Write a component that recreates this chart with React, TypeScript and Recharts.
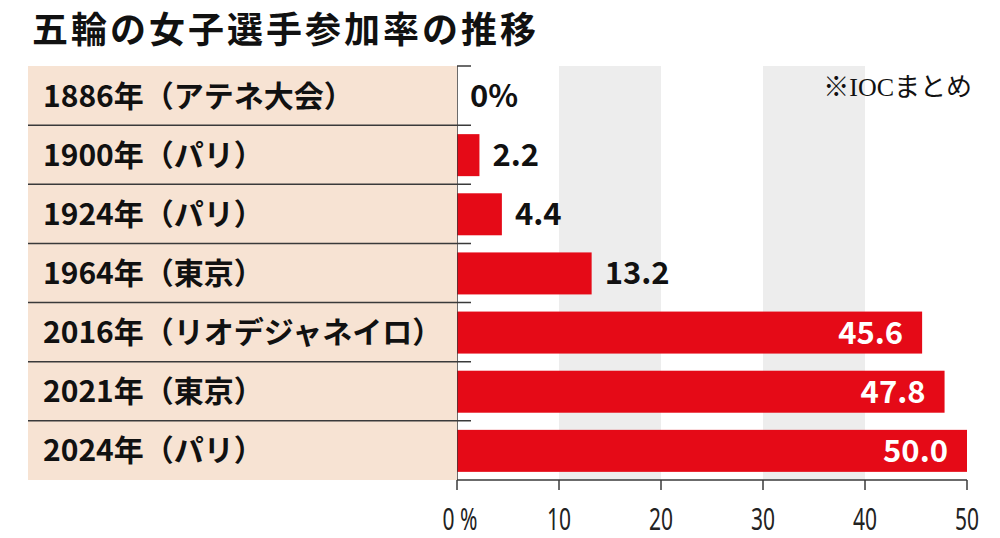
import React from 'react';
import {
  BarChart,
  Bar,
  XAxis,
  YAxis,
  ReferenceArea,
} from 'recharts';

const categories = [
  '1886年（アテネ大会）',
  '1900年（パリ）',
  '1924年（パリ）',
  '1964年（東京）',
  '2016年（リオデジャネイロ）',
  '2021年（東京）',
  '2024年（パリ）',
];
const shares = [0, 2.2, 4.4, 13.2, 45.6, 47.8, 50.0];
const xTicks = [0, 10, 20, 30, 40, 50];
const shadedBands = [
  [10, 20],
  [30, 40],
];

const TITLE = '五輪の女子選手参加率の推移';
const NOTE = '※IOCまとめ';

const W = 1000;
const H = 538;
const MARGIN = { top: 66, right: 33, bottom: 0, left: 28 };
const Y_AXIS_W = 429;
const X_AXIS_H = 58;
const PLOT_LEFT = MARGIN.left + Y_AXIS_W;
const BAND = (H - MARGIN.top - MARGIN.bottom - X_AXIS_H) / categories.length;

const RED = '#E50A17';
const BEIGE = '#F7E3D3';
const GREY = '#EDEDED';
const INK = '#3a3a3a';
const JP = '"Noto Sans CJK JP", "Noto Sans", sans-serif';

const data = categories.map((name, i) => ({ name, share: shares[i] }));

function CategoryTick(props: any) {
  const { y, payload, index } = props;
  const top = y - BAND / 2;
  return (
    <g>
      <rect x={MARGIN.left} y={top} width={Y_AXIS_W} height={BAND} fill={BEIGE} />
      <line
        x1={index === 0 ? PLOT_LEFT : MARGIN.left}
        x2={PLOT_LEFT + 14}
        y1={top}
        y2={top}
        stroke={INK}
        strokeWidth={1.5}
      />
      <text
        x={MARGIN.left + 15}
        y={y + 11}
        fontFamily={JP}
        fontWeight={700}
        fontSize={30}
        fill="#111"
      >
        {payload.value}
      </text>
    </g>
  );
}

function PercentTick(props: any) {
  const { x, y, payload } = props;
  const label = payload.value === 0 ? '0 %' : String(payload.value);
  return (
    <g transform={`translate(${x + (payload.value === 0 ? 3 : 0)},${y + 38})`}>
      <text
        transform="scale(0.7,1)"
        textAnchor="middle"
        fontFamily='"Noto Sans", sans-serif'
        fontSize={30}
        fill="#222"
      >
        {label}
      </text>
    </g>
  );
}

// bar + its value label, so the 0 row still gets its "0%"
function BarWithLabel(props: any) {
  const { x, y, width, height, share } = props;
  const w = Math.max(0, width || 0);
  const inside = share > 20;
  const text = share === 0 ? '0%' : share.toFixed(1);
  return (
    <g>
      {w > 0 && <rect x={x} y={y} width={w} height={height} fill={RED} />}
      <text
        x={inside ? x + w - 19 : x + w + 13}
        y={y + height / 2 + 11}
        textAnchor={inside ? 'end' : 'start'}
        fontFamily={JP}
        fontWeight={700}
        fontSize={31}
        fill={inside ? '#fff' : '#111'}
      >
        {text}
      </text>
    </g>
  );
}

export default function App() {
  return (
    <div style={{ position: 'relative', width: W, height: H, background: '#fff' }}>
      <style>{`body{margin:0}`}</style>
      <BarChart
        width={W}
        height={H}
        data={data}
        layout="vertical"
        margin={MARGIN}
      >
        {shadedBands.map(([a, b]) => (
          <ReferenceArea
            key={a}
            x1={a}
            x2={b}
            fill={GREY}
            fillOpacity={1}
            stroke="none"
            ifOverflow="hidden"
          />
        ))}
        <XAxis
          type="number"
          domain={[0, 50]}
          ticks={xTicks}
          height={X_AXIS_H}
          tickSize={10}
          tickLine={{ stroke: INK, strokeWidth: 1.5 }}
          axisLine={{ stroke: INK, strokeWidth: 1.5 }}
          tick={<PercentTick />}
          interval={0}
        />
        <YAxis
          type="category"
          dataKey="name"
          width={Y_AXIS_W}
          tickLine={false}
          axisLine={{ stroke: INK, strokeWidth: 1.5 }}
          tick={<CategoryTick />}
          interval={0}
        />
        <Bar
          dataKey="share"
          fill={RED}
          barSize={42}
          shape={<BarWithLabel />}
          isAnimationActive={false}
        />
      </BarChart>
      <svg
        width={W}
        height={H}
        style={{ position: 'absolute', left: 0, top: 0, pointerEvents: 'none' }}
      >
        <text
          x={32}
          y={43}
          fontFamily={JP}
          fontWeight={700}
          fontSize={36}
          letterSpacing={3}
          fill="#111"
        >
          {TITLE}
        </text>
        <text
          x={972}
          y={96}
          textAnchor="end"
          fontFamily='"Liberation Serif", "DejaVu Serif", "Noto Sans CJK JP", serif'
          fontSize={26}
          fill="#111"
        >
          {NOTE}
        </text>
      </svg>
    </div>
  );
}
